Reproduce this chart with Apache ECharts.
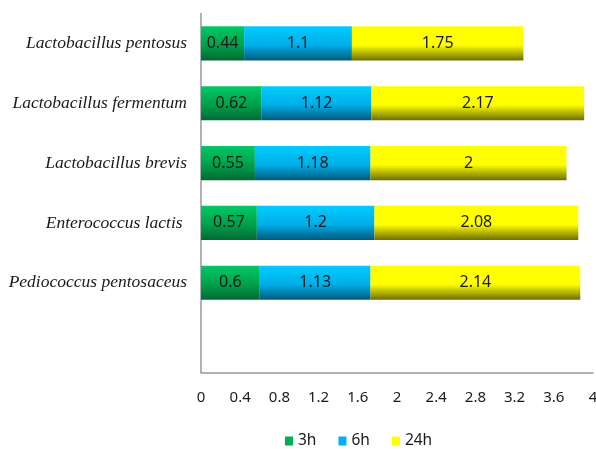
<!DOCTYPE html>
<html>
<head>
<meta charset="utf-8">
<script src="https://cdn.jsdelivr.net/npm/echarts@6/dist/echarts.min.js"></script>
<style>html,body{margin:0;padding:0;background:#fff}#c{width:596px;height:449px}</style>
</head>
<body>
<div id="c"></div>
<script>
var categories = ['', 'Pediococcus pentosaceus', 'Enterococcus lactis ', 'Lactobacillus brevis', 'Lactobacillus fermentum', 'Lactobacillus pentosus'];
var h3 = [null, 0.6, 0.57, 0.55, 0.62, 0.44];
var h6 = [null, 1.13, 1.2, 1.18, 1.12, 1.1];
var h24 = [null, 2.14, 2.08, 2, 2.17, 1.75];
var xTicks = { min: 0, max: 4, interval: 0.4 };

function grad(top, mid, bottom) {
  return new echarts.graphic.LinearGradient(0, 0, 0, 1, [
    { offset: 0, color: top },
    { offset: 0.55, color: mid },
    { offset: 1, color: bottom }
  ]);
}
var labelStyle = { show: true, position: 'inside', color: '#1a1a1a', fontSize: 16, fontFamily: 'Noto Sans' };
function mk(name, data, c) {
  return {
    name: name, type: 'bar', stack: 'total', data: data,
    barCategoryGap: '43%',
    itemStyle: { color: c },
    label: labelStyle,
    emphasis: { disabled: true }
  };
}
var chart = echarts.init(document.getElementById('c'), null, { renderer: 'canvas' });
chart.setOption({
  animation: false,
  color: ['#00b050', '#00b0f0', '#ffff00'],
  legend: {
    top: 428, left: 280, itemWidth: 8, itemHeight: 9, itemGap: 22,
    icon: 'rect',
    textStyle: { fontSize: 15.5, fontFamily: 'Noto Sans', color: '#1a1a1a' },
    data: [
      { name: '3h', itemStyle: { color: '#00b050' } },
      { name: '6h', itemStyle: { color: '#00b0f0' } },
      { name: '24h', itemStyle: { color: '#ffff00' } }
    ]
  },
  grid: { left: 201, top: 13.5, right: 3, bottom: 76.5, containLabel: false, outerBoundsMode: 'none' },
  xAxis: {
    type: 'value', min: xTicks.min, max: xTicks.max, interval: xTicks.interval,
    axisLine: { show: true, lineStyle: { color: '#999999', width: 1.5 } },
    axisTick: { show: false },
    splitLine: { show: false },
    axisLabel: { fontSize: 15, fontFamily: 'Noto Sans', color: '#1a1a1a', margin: 18, showMaxLabel: true, hideOverlap: false }
  },
  yAxis: {
    type: 'category', data: categories,
    axisLine: { show: true, lineStyle: { color: '#999999', width: 1.5 } },
    axisTick: { show: false },
    axisLabel: { fontSize: 17.5, fontStyle: 'italic', fontFamily: 'Liberation Serif', color: '#1a1a1a', margin: 14 }
  },
  series: [
    mk('3h', h3, grad('#00c864', '#00a04a', '#006a34')),
    mk('6h', h6, grad('#00ccff', '#00aee8', '#005a7c')),
    mk('24h', h24, grad('#ffff00', '#ffff00', '#6e6e00'))
  ]
});
</script>
</body>
</html>
